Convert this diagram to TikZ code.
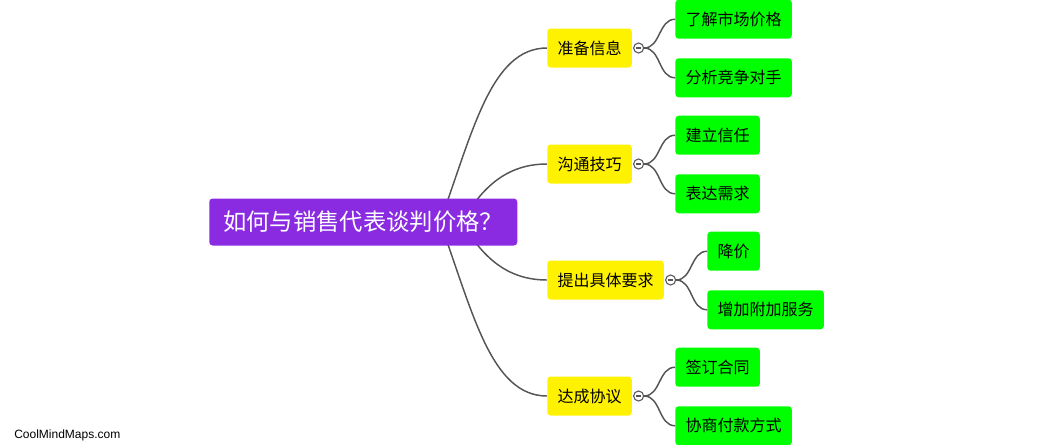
\documentclass[tikz,border=0pt]{standalone}
\usepackage{fontspec}
\setmainfont{Noto Sans CJK SC}
\newfontfamily\wmfont{Liberation Sans}
\usetikzlibrary{backgrounds,positioning}
\definecolor{topicpurple}{HTML}{8A2BE2}
\definecolor{linkgray}{HTML}{555555}
\tikzset{x=0.75pt, y=-0.75pt, % one unit is one pixel of the picture, y goes down
topic/.style={fill=topicpurple, text=white, rounded corners=2.5pt, inner xsep=10.5pt, inner ysep=0pt, minimum height=35.25pt, font=\fontsize{17.5pt}{20pt}\selectfont}, % the central question
branch/.style={fill=yellow, rounded corners=2.5pt, inner xsep=7.7pt, inner ysep=0pt, minimum height=29.25pt, font=\fontsize{12pt}{14pt}\selectfont}, % first level
leaf/.style={branch, fill=green}, % second level
fold/.style={circle, draw=linkgray, fill=white, line width=0.8pt, inner sep=0pt, minimum size=7.5pt,
  path picture={\draw[line width=1pt] ([xshift=-2pt]path picture bounding box.center) -- ([xshift=2pt]path picture bounding box.center);}}, % the little collapse button
link/.style={draw=linkgray, line width=1.1pt}, % every connector
far/.style={out looseness=1.2, in looseness=0.7}, % outer branches swing wider
}

\begin{document}
\begin{tikzpicture}
\useasboundingbox (0,0) rectangle (1045,444);
\node[topic, anchor=west] (0) at (209,222) {如何与销售代表谈判价格？};
\node[branch, anchor=west] (1) at (547,48) {准备信息};
\node[branch, anchor=west] (2) at (547,164) {沟通技巧};
\node[branch, anchor=west] (3) at (547,280) {提出具体要求};
\node[branch, anchor=west] (4) at (547,396) {达成协议};
\node[fold, right=0.75pt of 1] (1m) {};
\node[fold, right=0.75pt of 2] (2m) {};
\node[fold, right=0.75pt of 3] (3m) {};
\node[fold, right=0.75pt of 4] (4m) {};
\node[leaf, above right=6.75pt and 32.25pt of 1.east] (1a) {了解市场价格};
\node[leaf, below right=7.5pt and 32.25pt of 1.east] (1b) {分析竞争对手};
\node[leaf, above right=6.75pt and 32.25pt of 2.east] (2a) {建立信任};
\node[leaf, below right=7.5pt and 32.25pt of 2.east] (2b) {表达需求};
\node[leaf, above right=6.75pt and 32.25pt of 3.east] (3a) {降价};
\node[leaf, below right=7.5pt and 32.25pt of 3.east] (3b) {增加附加服务};
\node[leaf, above right=6.75pt and 32.25pt of 4.east] (4a) {签订合同};
\node[leaf, below right=7.5pt and 32.25pt of 4.east] (4b) {协商付款方式};
\node[anchor=west, inner sep=0pt, font=\wmfont\fontsize{9pt}{10pt}\selectfont] (wm) at (14,435) {CoolMindMaps.com};
% connectors from the centre go behind the purple box
\begin{scope}[on background layer]
\coordinate (h) at (440,222);
\coordinate (hh) at (462,222);
\draw[link] (h) edge[far, out=70, in=180] (1)
(hh) edge[out=60, in=180] (2)
(hh) edge[out=-60, in=180] (3)
(h) edge[far, out=-70, in=180] (4);
\end{scope}
\draw[link] (1m) edge[out=0, in=180] (1a)
(1m) edge[out=0, in=180] (1b)
(2m) edge[out=0, in=180] (2a)
(2m) edge[out=0, in=180] (2b)
(3m) edge[out=0, in=180] (3a)
(3m) edge[out=0, in=180] (3b)
(4m) edge[out=0, in=180] (4a)
(4m) edge[out=0, in=180] (4b);
\end{tikzpicture}
\end{document}
